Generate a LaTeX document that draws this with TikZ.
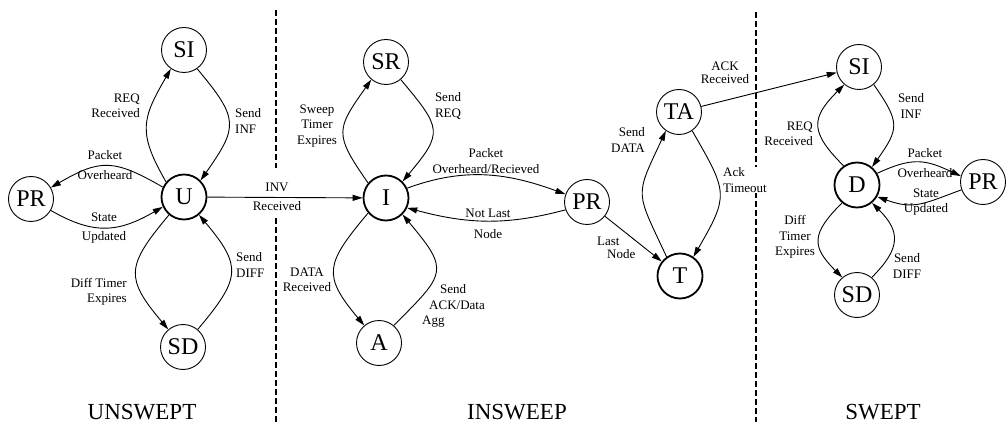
\documentclass[tikz,border=0pt]{standalone}
\usepackage{fontspec}
\setmainfont{Liberation Serif}
\usetikzlibrary{arrows.meta, positioning}

\begin{document}
\begin{tikzpicture}[x=1pt, y=1pt,
  st/.style={circle, draw, line width=0.9pt, minimum size=45pt, inner sep=0pt,
             font=\fontsize{24}{28}\selectfont},
  stbold/.style={st, line width=1.8pt},
  lbl/.style={align=center, inner sep=1pt, font=\fontsize{13}{15.5}\selectfont},
  arrow/.style={-{Triangle[length=10pt, width=6pt]}, line width=0.9pt},
  sep/.style={line width=1.3pt, dash pattern=on 6pt off 3pt},
  title/.style={anchor=base, font=\fontsize{23}{27}\selectfont}
]
\useasboundingbox (0,0) rectangle (1006,426);

% Separadores entre fases
\draw[sep] (276,416) -- (276,258);
\draw[sep] (276,208) -- (276,4);
\draw[sep] (756,414) -- (756,4);

% Fase UNSWEPT
\node[stbold] (U)   at (184,229) {U};
\node[st]     (SIu) at (184,376) {SI};
\node[st]     (PRu) at (31,227)  {PR};
\node[st]     (SDu) at (183,79)  {SD};

% Fase INSWEEP
\node[stbold] (I)   at (386,228) {I};
\node[st]     (SR)  at (386,364) {SR};
\node[st]     (PRm) at (587,224) {PR};
\node[st]     (A)   at (379,83)  {A};
\node[st]     (TA)  at (679,314) {TA};
\node[stbold] (T)   at (680,150) {T};

% Fase SWEPT
\node[stbold] (D)   at (857,241) {D};
\node[st]     (SIr) at (859,359) {SI};
\node[st]     (PRr) at (983,244) {PR};
\node[st]     (SDr) at (857,131) {SD};

% Transiciones UNSWEPT
\draw[arrow] (U.140) to[out=120, in=240, looseness=1.3] (SIu.235);
\draw[arrow] (SIu.-55) to[out=-50, in=55, looseness=1.5] (U.45);
\draw[arrow] (U.155) to[out=150, in=30, looseness=1.3] (PRu.30);
\draw[arrow] (PRu.-30) to[out=-30, in=-150, looseness=1.15] (U.-155);
\draw[arrow] (U.-130) to[out=-130, in=130, looseness=1.5] (SDu.130);
\draw[arrow] (SDu.50) to[out=50, in=-50, looseness=1.5] (U.-50);
\draw[arrow] (U) -- (I);

% Transiciones INSWEEP
\draw[arrow] (I.140) to[out=125, in=235, looseness=1.5] (SR.230);
\draw[arrow] (SR.-50) to[out=-50, in=50, looseness=1.6] (I.45);
\draw[arrow] (I.25) to[out=20, in=160] (PRm.160);
\draw[arrow] (PRm.-160) to[out=-165, in=-15] (I.-25);
\draw[arrow] (I.-140) to[out=-130, in=130, looseness=1.5] (A.130);
\draw[arrow] (A.50) to[out=45, in=-50, looseness=1.7] (I.-45);
\draw[arrow] (PRm) -- (T);
\draw[arrow] (T.125) to[out=115, in=245, looseness=1.5] (TA.235);
\draw[arrow] (TA.-55) to[out=-60, in=60, looseness=1.45] (T.55);
\draw[arrow] (TA) -- (SIr);

% Transiciones SWEPT
\draw[arrow] (D.125) to[out=135, in=225, looseness=1.5] (SIr.230);
\draw[arrow] (SIr.-50) to[out=-55, in=55, looseness=1.45] (D.50);
\draw[arrow] (D.30) to[out=25, in=155, looseness=1.2] (PRr.165);
\draw[arrow] (PRr.-160) to[out=-160, in=-20, looseness=1.2] (D.-30);
\draw[arrow] (D.-130) to[out=-135, in=135, looseness=1.5] (SDr.130);
\draw[arrow] (SDr.50) to[out=45, in=-45, looseness=1.4] (D.-50);

% Etiquetas UNSWEPT
\node[lbl, anchor=east, align=right] (lReqU) at (141,320) {REQ\\Received};
\node[lbl, anchor=west, align=left]  (lInfU) at (234,305) {Send\\INF};
\node[lbl] (lPktU) at (105,261) {Packet\\[4pt]Overheard};
\node[lbl] (lStU)  at (104,198) {State\\[4pt]Updated};
\node[lbl, anchor=east, align=right] (lDifU) at (128,134) {Diff Timer\\Expires};
\node[lbl, anchor=west, align=left]  (lSdU)  at (235,161) {Send\\DIFF};
\node[lbl] (lInv) at (277,229) {INV\\[4pt]Received};

% Etiquetas INSWEEP
\node[lbl] (lSwp) at (317,300) {Sweep\\Timer\\Expires};
\node[lbl] (lReq) at (448,320) {Send\\REQ};
\node[lbl] (lPkt) at (486,265) {Packet\\Overheard/Recieved};
\node[lbl] (lNot) at (488,202) {Not Last\\[6pt]Node};
\node[lbl] (lDat) at (307,146) {DATA\\Received};
\node[lbl, anchor=west, align=left] (lAck) at (421,120)
  {\hspace*{18pt}Send\\\hspace*{7pt}ACK/Data\\Agg};
\node[lbl, anchor=east, align=right] (lSdt) at (646,286) {Send\\DATA};
\node[lbl, anchor=west, align=left, fill=white] (lTmo) at (722,246) {Ack\\Timeout};
\node[lbl, anchor=west, align=left] (lLst) at (596,178) {Last\\[-3pt]\hspace*{10pt}Node};
\node[lbl] (lAckR) at (725,353) {ACK\\[-2pt]Received};

% Etiquetas SWEPT
\node[lbl, anchor=east, align=right] (lReqR) at (814,292) {REQ\\Received};
\node[lbl] (lInfR) at (911,320) {Send\\INF};
\node[lbl] (lPktR) at (925,263) {Packet\\[4pt]Overheard};
\node[lbl] (lStR)  at (926,224) {State\\Updated};
\node[lbl] (lDifR) at (795,189) {Diff\\Timer\\Expires};
\node[lbl] (lSdR)  at (907,160) {Send\\DIFF};

% Titulos de fase
\node[title] (tUns) at (142,7) {UNSWEPT};
\node[title] (tIns) at (517,7) {INSWEEP};
\node[title] (tSwp) at (883,7) {SWEPT};

\end{tikzpicture}
\end{document}
